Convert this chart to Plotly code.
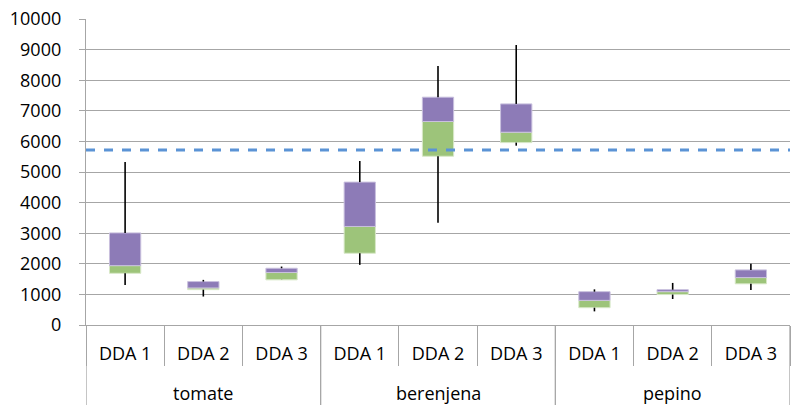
import plotly.graph_objects as go

groups = ["tomate", "berenjena", "pepino"]
subs = ["DDA 1", "DDA 2", "DDA 3"]
cat_labels = subs * 3

v_min = [1310, 930, 1470, 1965, 3340, 5860, 445, 850, 1145]
v_q1 = [1690, 1155, 1475, 2345, 5515, 5960, 565, 995, 1345]
v_med = [1940, 1210, 1715, 3220, 6650, 6300, 805, 1090, 1550]
v_q3 = [3010, 1420, 1855, 4670, 7445, 7225, 1090, 1155, 1800]
v_max = [5325, 1475, 1910, 5360, 8460, 9150, 1165, 1375, 2000]
threshold = 5720

y_ticks = list(range(0, 10001, 1000))

n = len(cat_labels)
xpos = list(range(n))
font_family = "Open Sans, Lato, sans-serif"
fs = 18
purple = "#8D7BB7"
green = "#9DC47A"
grey = "#A6A6A6"

fig = go.Figure()

# whiskers (drawn as error bars from the box edges outward)
fig.add_trace(go.Scatter(
    x=xpos, y=v_q3, mode="markers", marker=dict(size=1, opacity=0),
    error_y=dict(type="data", symmetric=False,
                 array=[b - a for a, b in zip(v_q3, v_max)],
                 arrayminus=[0] * n, width=0, thickness=1.6, color="black"),
    showlegend=False, hoverinfo="skip"))
fig.add_trace(go.Scatter(
    x=xpos, y=v_q1, mode="markers", marker=dict(size=1, opacity=0),
    error_y=dict(type="data", symmetric=False,
                 array=[0] * n,
                 arrayminus=[a - b for a, b in zip(v_q1, v_min)],
                 width=0, thickness=1.6, color="black"),
    showlegend=False, hoverinfo="skip"))

fig.add_trace(go.Bar(
    x=xpos, y=[m - q for q, m in zip(v_q1, v_med)], base=v_q1,
    marker=dict(color=green, line=dict(color="#D8E8C8", width=1)),
    width=0.4, showlegend=False))
fig.add_trace(go.Bar(
    x=xpos, y=[q - m for m, q in zip(v_med, v_q3)], base=v_med,
    marker=dict(color=purple, line=dict(color="#C9C0DE", width=1)),
    width=0.4, showlegend=False))

fig.add_hline(y=threshold, line=dict(color="#5B93D5", width=3, dash="dash"))

# group labels and group dividers
for gi, g in enumerate(groups):
    fig.add_annotation(x=gi * 3 + 1, xref="x", y=-0.222, yref="paper",
                       text=g, showarrow=False, yanchor="middle",
                       font=dict(size=fs, family=font_family, color="black"))
for b in [-0.5, 2.5, 5.5, 8.5]:
    fig.add_shape(type="line", x0=b, x1=b, xref="x", y0=0, y1=-0.3, yref="paper",
                  line=dict(color=grey, width=1.3))

fig.update_layout(
    width=791, height=405,
    margin=dict(l=86, r=1, t=19, b=80),
    paper_bgcolor="white", plot_bgcolor="white",
    barmode="overlay",
    font=dict(family=font_family, size=fs, color="black"),
)
fig.update_yaxes(
    range=[0, 10000], tickvals=y_ticks, ticktext=[str(v) for v in y_ticks],
    showgrid=True, gridcolor=grey, gridwidth=1,
    showline=True, linecolor=grey, linewidth=1.3,
    ticks="outside", ticklen=6, tickcolor=grey,
    zeroline=False, tickfont=dict(size=fs), automargin=False,
    ticklabelstandoff=14, ticklabeloverflow="allow",
)
fig.update_xaxes(
    range=[-0.5, n - 0.5], tickvals=xpos, ticktext=cat_labels,
    showgrid=False, zeroline=False,
    showline=True, linecolor=grey, linewidth=1.3,
    ticks="", tickfont=dict(size=fs), automargin=False,
    ticklabelstandoff=12,
    minor=dict(tickvals=[i - 0.5 for i in range(n + 1)], ticks="outside",
               ticklen=40, tickcolor=grey, tickwidth=1.3, showgrid=False),
)

# remove the default page margin so the figure fills the 791x405 window
fig.write_html(
    "out.html",
    config={"displayModeBar": False},
    post_script="document.body.style.margin='0';document.body.style.overflow='hidden';",
)
